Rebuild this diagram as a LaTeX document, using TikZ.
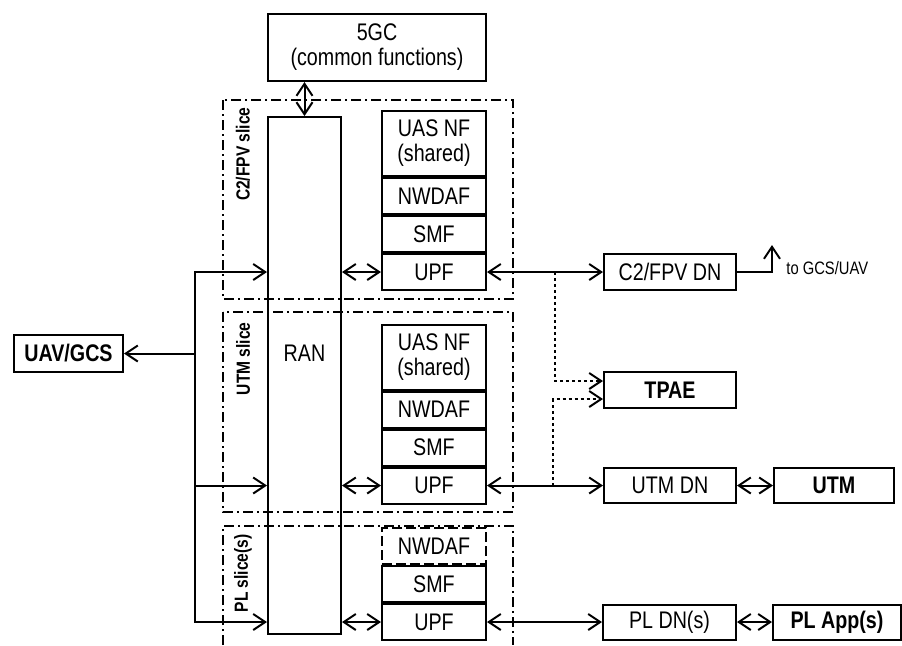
\documentclass[tikz,border=0pt]{standalone}
\usepackage{fontspec}
\setmainfont{Liberation Sans}[FakeStretch=0.82]
\usetikzlibrary{positioning,arrows.meta}

\begin{document}
\begin{tikzpicture}[
		x=0.5pt, y=-0.5pt,
		node distance=0pt,
		box/.style={draw, line width=1pt, inner sep=0pt, align=center, font=\fontsize{12}{12.5}\selectfont},
		nf/.style={box, minimum width=52pt, minimum height=18pt},
		dn/.style={box, minimum width=66pt, minimum height=18pt},
		ext/.style={box, font=\fontsize{12}{12.5}\selectfont\bfseries, minimum height=17.5pt},
		slice/.style={line width=1pt, dash pattern=on 5pt off 2pt on 1pt off 2pt},
		slicelbl/.style={rotate=90, anchor=east, inner sep=0pt, font=\fontsize{9.5}{10}\selectfont\bfseries},
		arr/.style={-{Straight Barb[length=6pt,width=8pt]}, line width=1pt},
		darr/.style={{Straight Barb[length=6pt,width=8pt]}-{Straight Barb[length=6pt,width=8pt]}, line width=1pt},
		dots/.style={arr, dash pattern=on 1.5pt off 1.5pt}
		]
		\useasboundingbox (0,0) rectangle (902,645);
		
		\draw[slice] (223,100) rectangle (513,299);
		\draw[slice] (223,312) rectangle (513,512);
		\draw[slice] (223,645) |- (513,526) -- (513,645);
		\node[slicelbl] (c2lbl) at (243,107) {C2/FPV slice};
		\node[slicelbl] (utmlbl) at (243,322) {UTM slice};
		\node[slicelbl] (pllbl) at (243,534) {PL slice(s)};
		
		\node[box, minimum width=109pt, minimum height=33.5pt] (fivegc) at (377,47.5) {5GC\\(common functions)};
		\node[box, minimum width=36.5pt, minimum height=258.5pt] (ran) at (304.5,375.5) {};
		\node[font=\fontsize{12}{12.5}\selectfont, inner sep=0pt] (rantxt) at (304.5,353) {RAN};
		
		\node[nf] (upf1) at (434,272) {UPF};
		\node[nf, above=of upf1] (smf1) {SMF};
		\node[nf, above=of smf1] (nwdaf1) {NWDAF};
		\node[nf, above=of nwdaf1, minimum height=32.5pt] (uas1) {UAS NF\\(shared)};
		
		\node[nf] (upf2) at (434,485.5) {UPF};
		\node[nf, above=of upf2] (smf2) {SMF};
		\node[nf, above=of smf2] (nwdaf2) {NWDAF};
		\node[nf, above=of nwdaf2, minimum height=32.5pt] (uas2) {UAS NF\\(shared)};
		
		\node[nf] (upf3) at (434,622) {UPF};
		\node[nf, above=of upf3] (smf3) {SMF};
		\node[nf, above=of smf3, dash pattern=on 5pt off 2pt] (nwdaf3) {NWDAF};
		
		\node[ext, minimum width=54.5pt, minimum height=18.5pt] (uavgcs) at (68.5,353.5) {UAV/GCS};
		\node[dn] (c2dn) at (670,272) {C2/FPV DN};
		\node[ext, minimum width=66pt, minimum height=18pt] (tpae) at (670,390) {TPAE};
		\node[dn, minimum height=17.5pt] (utmdn) at (670,485.5) {UTM DN};
		\node[ext, minimum width=60pt] (utm) at (834,485.5) {UTM};
		\node[dn, minimum width=66.5pt, minimum height=17.5pt] (pldn) at (669.5,622) {PL DN(s)};
		\node[ext, minimum width=64pt] (plapp) at (837,622) {PL App(s)};
		\node[anchor=base west, inner sep=0pt, font=\fontsize{9}{10}\selectfont] (togcstxt) at (786,274) {to GCS/UAV};
		
		\coordinate (bus) at (195,353.5);
		\coordinate (j1) at (555,272);
		\coordinate (j2) at (553,485.5);
		\coordinate (togcs) at (772,245);
		
		\draw[darr] (fivegc.south -| ran) -- (ran.north);
		\draw[arr] (bus) -- (uavgcs);
		\draw[arr] (bus) |- (ran.west |- upf1);
		\draw[arr] (bus) |- (ran.west |- upf3);
		\draw[arr] (bus |- upf2) -- (ran.west |- upf2);
		\draw[darr] (ran.east |- upf1) -- (upf1);
		\draw[darr] (ran.east |- upf2) -- (upf2);
		\draw[darr] (ran.east |- upf3) -- (upf3);
		\draw[darr] (upf1) -- (c2dn);
		\draw[darr] (upf2) -- (utmdn);
		\draw[darr] (upf3) -- (pldn);
		\draw[darr] (utmdn) -- (utm);
		\draw[darr] (pldn) -- (plapp);
		\draw[arr] (c2dn.east) -| (togcs);
		\draw[dots] (j1) |- ([yshift=4.5pt]tpae.west);
		\draw[dots] (j2) |- ([yshift=-4.5pt]tpae.west);
	\end{tikzpicture}
\end{document}
